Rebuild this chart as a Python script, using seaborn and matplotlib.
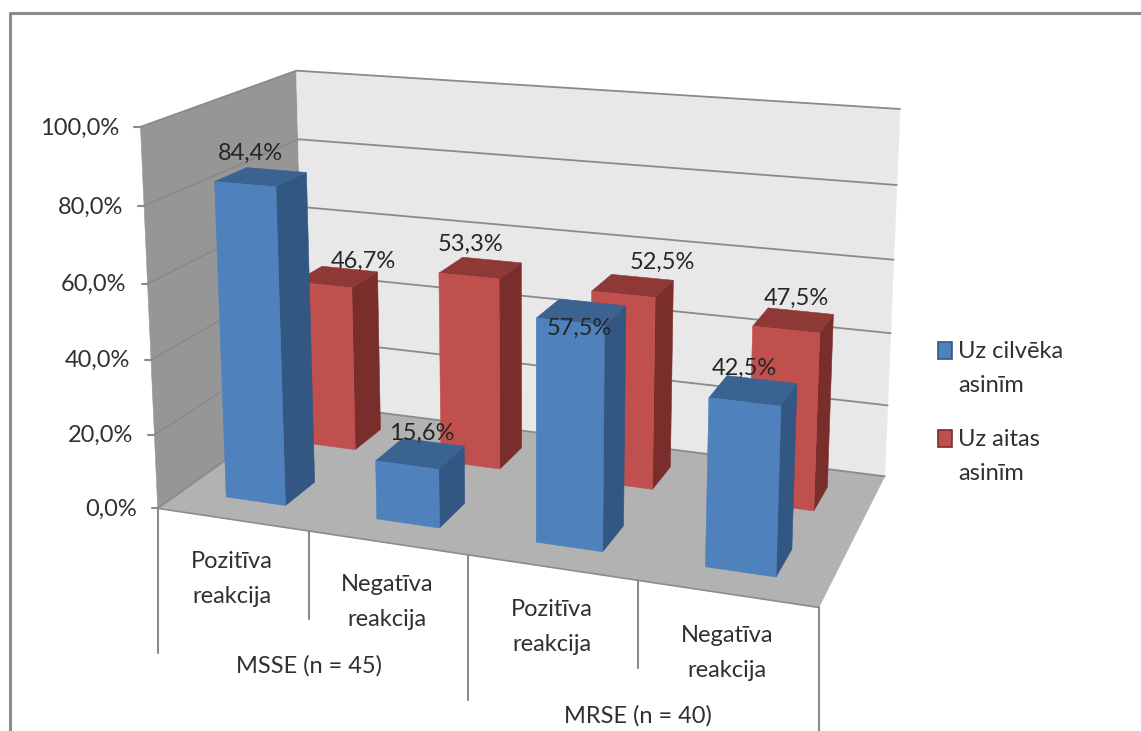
import numpy as np
import pandas as pd
import seaborn as sns
import matplotlib
matplotlib.use("Agg")
import matplotlib.pyplot as plt
from matplotlib.patches import Rectangle

# Chart content
categories = ["Pozitīva\nreakcija", "Negatīva\nreakcija", "Pozitīva\nreakcija", "Negatīva\nreakcija"]
groups = ["MSSE (n = 45)", "MRSE (n = 40)"]
series_names = ["Uz cilvēka\nasinīm", "Uz aitas\nasinīm"]
human_blood = [84.4, 15.6, 57.5, 42.5]
sheep_blood = [46.7, 53.3, 52.5, 47.5]
value_ticks = [0, 20, 40, 60, 80, 100]

W, H = 1141, 731
sns.set_theme(style="white", rc={"font.family": ["Lato", "DejaVu Sans"]})
plt.rcParams["font.family"] = ["Lato", "DejaVu Sans"]

TEXT = "#303030"
BLUE = dict(front="#4F81BD", top="#3A6391", side="#325782")
RED = dict(front="#C0504D", top="#8F3937", side="#7A2E2C")
FS = 17

# Camera calibration: (category axis, depth axis, value axis) -> canvas position
anchors = [
    (0, 0, 0, 158, 509), (1, 0, 0, 308, 532), (2, 0, 0, 468, 556), (3, 0, 0, 638, 581), (4, 0, 0, 818, 607),
    (0, 0, 20, 155, 434), (0, 0, 40, 152, 360), (0, 0, 60, 148, 283), (0, 0, 80, 144, 204), (0, 0, 100, 140, 127),
    (0, 2, 0, 305, 403), (0, 2, 80, 298, 140), (0, 2, 100, 296, 71),
    (4, 2, 0, 885, 475), (4, 2, 20, 888, 405), (4, 2, 40, 891, 333), (4, 2, 60, 894, 260), (4, 2, 80, 897, 186),
    (4, 2, 100, 900, 109),
]
rows, rhs = [], []
for X, Y, Z, u, v in anchors:
    rows.append([X, Y, Z, 1, 0, 0, 0, 0, -u * X, -u * Y, -u * Z])
    rows.append([0, 0, 0, 0, X, Y, Z, 1, -v * X, -v * Y, -v * Z])
    rhs += [u, v]
cam = np.append(np.linalg.lstsq(np.array(rows, float), np.array(rhs, float), rcond=None)[0], 1).reshape(3, 4)


def project(x, y, z):
    p = cam @ np.array([x, y, z, 1.0])
    return p[0] / p[2], p[1] / p[2]


fig = plt.figure(figsize=(W / 100, H / 100), dpi=100)
ax = fig.add_axes([0, 0, 1, 1])
ax.set_xlim(0, W)
ax.set_ylim(H, 0)
ax.axis("off")


def face(points, color, z):
    ax.fill(*zip(*[project(*p) for p in points]), color=color, lw=0.4, zorder=z)


# Outer frame
ax.plot([10, 10, W], [H, 13, 13], color="#8C8C8C", lw=2.2, zorder=1)

# Chart walls and floor
face([(0, 0, 0), (0, 2, 0), (0, 2, 100), (0, 0, 100)], "#969696", 2)
face([(0, 2, 0), (4, 2, 0), (4, 2, 100), (0, 2, 100)], "#E8E8E8", 2)
face([(0, 0, 0), (4, 0, 0), (4, 2, 0), (0, 2, 0)], "#B2B2B2", 2)

# Gridlines run along the side wall and across the back wall
grid = []
for tick in value_ticks:
    for x, y in [(0, 0), (0, 2), (4, 2)]:
        px, py = project(x, y, tick)
        grid.append(dict(px=px, py=py, level=tick))
grid = pd.DataFrame(grid)
sns.lineplot(data=grid, x="px", y="py", units="level", estimator=None, sort=False,
             color="#8A8A8A", lw=1.3, ax=ax, zorder=3)
ax.axis("off")
ax.set_xlim(0, W)
ax.set_ylim(H, 0)

# Front edge of the floor
ax.plot(*zip(project(0, 0, 0), project(4, 0, 0)), color="#8C8C8C", lw=1.2, zorder=3)

# Value axis ticks and labels
for tick in value_ticks:
    px, py = project(0, 0, tick)
    ax.plot([px - 6, px], [py, py], color="#8A8A8A", lw=1.5, zorder=3)
    ax.text(px - 21, py + 1, f"{tick:.1f}%".replace(".", ","), ha="right", va="center",
            fontsize=FS, color=TEXT, zorder=9)

# Category separators below the floor
for k in range(5):
    px, py = project(k, 0, 0)
    drop = 88 if k % 2 else 145
    ax.plot([px, px], [py, min(py + drop, H)], color="#8C8C8C", lw=1.5, zorder=3)


def stacked(x, y, label):
    for i, line in enumerate(label.split("\n")):
        ax.text(x, y + 35 * i, line, ha="center", va="center", fontsize=FS, color=TEXT, zorder=9)


for k, label in enumerate(categories):
    px, py = project(k + 0.5, 0, 0)
    stacked(px, py + 42, label)
for k, label in enumerate(groups):
    px, py = project(2 * k + 1, 0, 0)
    stacked(px, py + 135, label)


def bar(cat, lane, value, colors, z):
    x0, x1 = cat + 0.3, cat + 0.7
    y0, y1 = lane + 0.3, lane + 0.7
    face([(x1, y0, 0), (x1, y1, 0), (x1, y1, value), (x1, y0, value)], colors["side"], z)
    face([(x0, y0, value), (x1, y0, value), (x1, y1, value), (x0, y1, value)], colors["top"], z)
    face([(x0, y0, 0), (x1, y0, 0), (x1, y0, value), (x0, y0, value)], colors["front"], z)


# Rear series first so the front series covers it
z = 4.0
for lane, values, colors in [(1, sheep_blood, RED), (0, human_blood, BLUE)]:
    for cat, value in enumerate(values):
        bar(cat, lane, value, colors, z)
        z += 0.01

# Value labels sit near each bar's top face
nudges = {(0, 0): (-11, -24), (0, 1): (1, -20), (0, 2): (-2, 16), (0, 3): (-9, -22),
          (1, 0): (27, -15), (1, 1): (-10, -24), (1, 2): (29, -23), (1, 3): (3, -22)}
for lane, values in [(1, sheep_blood), (0, human_blood)]:
    for cat, value in enumerate(values):
        px, py = project(cat + 0.5, lane + 0.5, value)
        dx, dy = nudges[(lane, cat)]
        ax.text(px + dx, py + dy, f"{value:.1f}%".replace(".", ","), ha="center", va="center",
                fontsize=FS, color="#262626", zorder=8)

# Legend
for i, (label, colors) in enumerate(zip(series_names, [BLUE, RED])):
    top = 342 + 88 * i
    ax.add_patch(Rectangle((938, top), 14, 17, facecolor=colors["front"], edgecolor=colors["side"], lw=1.2, zorder=8))
    for j, line in enumerate(label.split("\n")):
        ax.text(958, top + 9 + 34 * j, line, ha="left", va="center", fontsize=FS, color=TEXT, zorder=9)

fig.savefig("out.png", dpi=100, facecolor="white")
